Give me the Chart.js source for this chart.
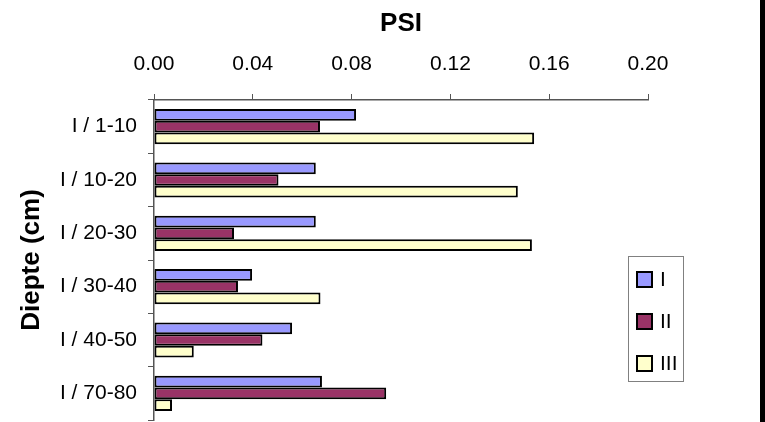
<!DOCTYPE html>
<html>
<head>
<meta charset="utf-8">
<script src="https://cdn.jsdelivr.net/npm/chart.js@4"></script>
<style>
  html, body { margin: 0; padding: 0; background: #fff; }
  #wrap { width: 765px; height: 422px; position: relative; }
</style>
</head>
<body>
<div id="wrap"><canvas id="grafico"></canvas></div>
<script>
const categorias = ["I / 1-10", "I / 10-20", "I / 20-30", "I / 30-40", "I / 40-50", "I / 70-80"];
const serieI = [0.0818, 0.0655, 0.0655, 0.0397, 0.0559, 0.0680];
const serieII = [0.0672, 0.0504, 0.0324, 0.0340, 0.0439, 0.0940];
const serieIII = [0.1539, 0.1473, 0.1530, 0.0674, 0.0161, 0.0073];
const etiquetasSeries = ["I", "II", "III"];
const ticksX = [0, 0.04, 0.08, 0.12, 0.16, 0.20];

const colores = ["#9999FF", "#993366", "#FFFFCC"];
const fuente = "'Liberation Sans', Arial, sans-serif";
const grisEje = "#555555";

// leyenda dibujada a mano, como en el original
const leyendaCaja = {
  id: "leyendaCaja",
  afterDraw(chart) {
    const ctx = chart.ctx;
    ctx.save();
    ctx.fillStyle = "#fff";
    ctx.fillRect(628, 256, 56, 126);
    ctx.strokeStyle = "#808080";
    ctx.lineWidth = 1;
    ctx.strokeRect(628.5, 256.5, 55, 125);
    chart.data.datasets.forEach((ds, i) => {
      const y = 272 + i * 42;
      ctx.fillStyle = ds.backgroundColor;
      ctx.fillRect(637, y, 15, 15);
      ctx.strokeStyle = "#000";
      ctx.lineWidth = 2;
      ctx.strokeRect(637, y, 15, 15);
      ctx.fillStyle = "#000";
      ctx.font = "21px " + fuente;
      ctx.textBaseline = "middle";
      ctx.textAlign = "left";
      ctx.fillText(ds.label, 660, y + 8);
    });
    // franja negra del borde derecho
    ctx.fillStyle = "#000";
    ctx.fillRect(760, 0, 5, 422);
    ctx.restore();
  }
};

const ctx = document.getElementById("grafico").getContext("2d");
new Chart(ctx, {
  type: "bar",
  data: {
    labels: categorias,
    datasets: [serieI, serieII, serieIII].map((valores, i) => ({
      label: etiquetasSeries[i],
      data: valores,
      backgroundColor: colores[i],
      borderColor: "#000",
      borderWidth: 2,
      borderSkipped: false,
      categoryPercentage: 0.66,
      barPercentage: 1
    }))
  },
  options: {
    indexAxis: "y",
    responsive: true,
    maintainAspectRatio: false,
    animation: false,
    layout: { padding: { left: 0, top: 0, right: 117, bottom: 2 } },
    plugins: {
      legend: { display: false },
      tooltip: { enabled: false }
    },
    scales: {
      x: {
        position: "top",
        min: 0,
        max: 0.2,
        afterBuildTicks: (scale) => { scale.ticks = ticksX.map(v => ({ value: v })); },
        afterFit: (scale) => {
          scale.height = 100;
          scale.paddingLeft = 0;
          scale.paddingRight = 0;
        },
        ticks: {
          color: "#000",
          padding: 17,
          font: { family: fuente, size: 21 },
          callback: (v) => Number(v).toFixed(2)
        },
        grid: { drawOnChartArea: false, tickLength: 6, color: grisEje },
        border: { color: grisEje, width: 1.5 },
        title: {
          display: true,
          text: "PSI",
          color: "#000",
          font: { family: fuente, size: 26, weight: "bold" },
          padding: { top: 8 }
        }
      },
      y: {
        afterFit: (scale) => {
          scale.width = 154;
          scale.paddingTop = 0;
          scale.paddingBottom = 0;
        },
        ticks: {
          color: "#000",
          padding: 11,
          font: { family: fuente, size: 21 }
        },
        grid: { drawOnChartArea: false, tickLength: 6, color: grisEje, offset: true },
        border: { color: grisEje, width: 1.5 },
        title: {
          display: true,
          text: "Diepte (cm)",
          color: "#000",
          font: { family: fuente, size: 26, weight: "bold" },
          padding: { top: 16 }
        }
      }
    }
  },
  plugins: [leyendaCaja]
});
</script>
</body>
</html>
